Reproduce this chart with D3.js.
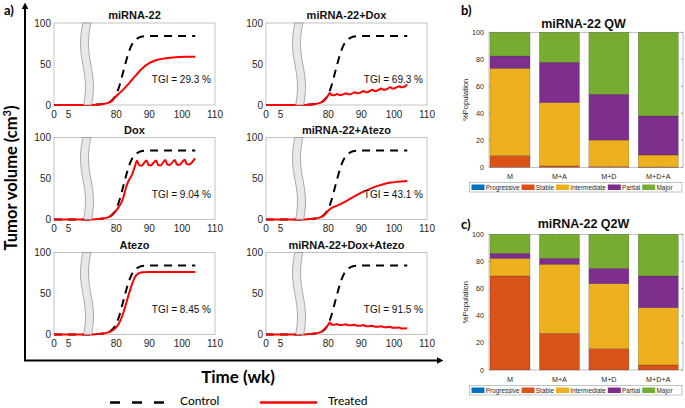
<!DOCTYPE html>
<html><head><meta charset="utf-8">
<script src="https://cdn.jsdelivr.net/npm/d3@7"></script>
<style>body{margin:0;background:#fff}svg{display:block}</style>
</head><body>
<svg id="c" width="685" height="408"></svg>
<script>
// ---------- DATA (panel a) ----------
const panelTitles = ["miRNA-22","miRNA-22+Dox","Dox","miRNA-22+Atezo","Atezo","miRNA-22+Dox+Atezo"];
const tgiLabels = ["TGI = 29.3 %","TGI = 69.3 %","TGI = 9.04 %","TGI = 43.1 %","TGI = 8.45 %","TGI = 91.5 %"];
const timeTicks = [0,5,80,90,100,110];
const volumeTicks = [0,50,100];
const controlCurve = [[0,0],[10,0],[72.3,0],[74,0.5],[76,1.2],[78,3.5],[79,7],[80,13],[81,24],[82,39],[83,54],[84,67],[85,75.5],[86,80],[87,82.5],[88,83.5],[90,84],[95,84],[100,84],[104,84]];
const treatedMiR22 = [[0,0],[10,0],[72.3,0],[74,0.5],[76,1.2],[78,3.5],[79,6.5],[80,11],[81,14.5],[82,18.5],[84,27],[86,36.5],[88,45],[90,51],[92,54.5],[95,57],[98,58.3],[101,58.7],[104,58.8]];
const treatedMiR22Dox = [[0,0],[10,0],[72.3,0],[74,0.5],[76,1.2],[78,3.5],[79,6.5],[80,12],[80.4,14.5],[81,12.3],[81.8,12],[82.7,13.3],[83.3,12.2],[84,12.3],[85.4,14.2],[86,13],[86.7,13.2],[88.1,15.5],[88.7,14.2],[89.4,14.5],[90.8,17],[91.4,15.6],[92.1,15.9],[93.5,18.5],[94.1,17],[94.8,17.4],[96.2,20],[96.8,18.5],[97.5,18.9],[98.9,21.5],[99.5,20],[100.2,20.4],[101.6,23],[102.2,21.5],[102.9,22],[104,24.8]];
const treatedDox = [[0,0],[10,0],[72.3,0],[74,0.5],[76,1.2],[78,3.5],[79,6.5],[80,11],[81,17],[82,25],[83,40],[83.7,47],[84.7,54],[85.5,63],[86.3,71.5],[86.9,66.5],[87.6,65.5],[89.2,72],[89.8,66.5],[90.5,66],[92.1,72],[92.7,66.5],[93.4,66],[94.9,72.5],[95.5,67],[96.2,66.5],[97.8,72.5],[98.4,67],[99.1,66.5],[100.8,73],[101.4,67.5],[102.1,67],[103.9,74.5]];
const treatedMiR22Atezo = [[0,0],[10,0],[72.3,0],[74,0.5],[76,1.2],[78,3.5],[79,6.5],[80,11],[81,14],[83,17.5],[85,21.5],[87,26],[89,30.5],[91,34.5],[93,38],[95,41],[97,43.3],[99,45],[101,46],[104,47]];
const treatedAtezo = [[0,0],[10,0],[72.3,0],[74,0.5],[76,1.2],[78,3.2],[79,5.5],[80,9],[81,15],[82,25],[83,38],[84,52],[85,64],[86,72],[87,75],[88,76],[90,76.3],[95,76.3],[100,76.3],[104,76.3]];
const treatedMiR22DoxAtezo = [[0,0],[10,0],[72.3,0],[74,0.5],[76,1.2],[78,3.5],[79,6.5],[80,12],[80.4,14.5],[81,12.2],[81.8,11.8],[82.7,12.8],[83.3,11.5],[84,11.6],[85.4,12.5],[86,11.2],[86.7,11.2],[88.1,12],[88.7,10.7],[89.4,10.7],[90.8,11.5],[91.4,10.2],[92.1,10.2],[93.5,10.8],[94.1,9.5],[94.8,9.5],[96.2,10],[96.8,8.8],[97.5,8.8],[98.9,9.3],[99.5,8.1],[100.2,8.1],[101.6,8.5],[102.2,7.3],[102.9,7.3],[104,7.5]];
const treatedCurves = [treatedMiR22, treatedMiR22Dox, treatedDox, treatedMiR22Atezo, treatedAtezo, treatedMiR22DoxAtezo];

// ---------- DATA (panels b, c) ----------
const outcomes = ["Progressive","Stable","Intermediate","Partial","Major"];
const regimens = ["M","M+A","M+D","M+D+A"];
const pctTicks = [0,20,40,60,80,100];
const qwProgressive = [0,0,0,0];
const qwStable = [8.6,1.0,0.5,0.2];
const qwIntermediate = [64.7,46.9,19.7,8.9];
const qwPartial = [9.1,29.9,33.9,28.9];
const qwMajor = [17.6,22.2,45.9,62.0];
const q2wProgressive = [0,0,0,0];
const q2wStable = [69.3,27.0,15.7,3.7];
const q2wIntermediate = [13.0,50.9,47.9,42.2];
const q2wPartial = [3.7,4.4,11.3,23.4];
const q2wMajor = [14.0,17.7,25.1,30.7];

// ---------- STYLE ----------
const outcomeColors = ["#0072BD","#D95319","#EDB120","#7E2F8E","#77AC30"];
const FM = "'Liberation Sans', Arial, sans-serif";
const FC = "Lato, 'Open Sans', sans-serif";

const svg = d3.select("#c");
svg.append("rect").attr("width",685).attr("height",408).attr("fill","#fff");

// ---------- PANEL A ----------
const pw = 161, ph = 82;
const colX = [54, 266], rowY = [23, 137.5, 252.5];
const line = (x,y)=>d3.line().x(d=>x(d[0])).y(d=>y(d[1])).curve(d3.curveMonotoneX);

panelTitles.forEach((title,i)=>{
  const r = Math.floor(i/2), c = i%2;
  const g = svg.append("g").attr("transform",`translate(${colX[c]},${rowY[r]})`);
  const x = d3.scaleLinear().domain([0,10,72.3,110]).range([0,29,37,pw]);
  const y = d3.scaleLinear().domain([0,100]).range([ph,0]);

  g.append("rect").attr("width",pw).attr("height",ph).attr("fill","none")
    .attr("stroke","#b3b3b3").attr("stroke-width",0.8);

  g.append("path").datum(controlCurve).attr("d",line(x,y)).attr("fill","none")
    .attr("stroke","#000").attr("stroke-width",2).attr("stroke-dasharray","8,6");
  g.append("path").datum(treatedCurves[i]).attr("d",line(x,y)).attr("fill","none")
    .attr("stroke","#ff0000").attr("stroke-width",2);

  // axis break band
  const mid = (x(10)+x(72.3))/2, hw = 4;
  const ts = d3.range(0,1.0001,0.05);
  const cx = t => mid - 2.5*Math.cos(2*Math.PI*(t-0.25)/1.06);
  const pts = ts.map(t=>[cx(t)-hw, t*ph]).concat(ts.slice().reverse().map(t=>[cx(t)+hw, t*ph]));
  g.append("path").attr("d", d3.line().curve(d3.curveLinearClosed)(pts))
    .attr("fill","#e6e6e6").attr("fill-opacity",0.9).attr("stroke","#8a8a8a").attr("stroke-width",0.7);

  // ticks
  const xa = g.append("g").attr("font-family",FM).attr("font-size",10).attr("fill","#262626");
  timeTicks.forEach(t=>{
    xa.append("text").attr("x",x(t)).attr("y",ph+12.5).attr("text-anchor","middle").text(t);
  });
  volumeTicks.forEach(v=>{
    xa.append("text").attr("x",-3).attr("y",y(v)).attr("dy","0.35em").attr("text-anchor","end").text(v);
  });
  g.append("text").attr("x",pw/2).attr("y",-4).attr("text-anchor","middle")
    .attr("font-family",FM).attr("font-weight","bold").attr("font-size",11).attr("fill","#111").text(title);
  g.append("text").attr("x",pw-4).attr("y",60).attr("text-anchor","end")
    .attr("font-family",FM).attr("font-size",10).attr("fill","#111").text(tgiLabels[i]);
});

// big axes with arrows
const defs = svg.append("defs");
defs.append("marker").attr("id","arr").attr("viewBox","0 0 10 10").attr("refX",2).attr("refY",5)
  .attr("markerWidth",3.4).attr("markerHeight",3.4).attr("orient","auto")
  .append("path").attr("d","M0,0L10,5L0,10z").attr("fill","#000");
svg.append("line").attr("x1",25).attr("y1",361).attr("x2",25).attr("y2",8)
  .attr("stroke","#000").attr("stroke-width",2).attr("marker-end","url(#arr)");
svg.append("line").attr("x1",24).attr("y1",360.5).attr("x2",438).attr("y2",360.5)
  .attr("stroke","#000").attr("stroke-width",2).attr("marker-end","url(#arr)");

svg.append("text").attr("x",4).attr("y",15).attr("font-family",FC).attr("font-weight","bold").attr("font-size",13).text("a)");
svg.append("text").attr("transform","translate(17,178) rotate(-90)").attr("text-anchor","middle")
  .attr("font-family",FC).attr("font-weight","bold").attr("font-size",16.5)
  .html('Tumor volume (cm<tspan dy="-6" font-size="11">3</tspan><tspan dy="6">)</tspan>');
svg.append("text").attr("x",238).attr("y",383).attr("text-anchor","middle")
  .attr("font-family",FC).attr("font-weight","bold").attr("font-size",17).text("Time (wk)");

// bottom legend
svg.append("line").attr("x1",110).attr("x2",166).attr("y1",402.5).attr("y2",402.5)
  .attr("stroke","#000").attr("stroke-width",2.5).attr("stroke-dasharray","10,12");
svg.append("text").attr("x",180).attr("y",405).attr("font-family",FC).attr("font-size",12).text("Control");
svg.append("line").attr("x1",260).attr("x2",317).attr("y1",402.5).attr("y2",402.5)
  .attr("stroke","#ff0000").attr("stroke-width",2.5);
svg.append("text").attr("x",328).attr("y",405).attr("font-family",FC).attr("font-size",12).text("Treated");

// ---------- PANELS B, C ----------
function stackedPanel(opt){
  const {top,bottom,title,titleY,letter,letterY,series,legendY} = opt;
  const x = d3.scaleBand().domain(regimens).range([490,678.3]).paddingInner(0.19).paddingOuter(0);
  const y = d3.scaleLinear().domain([0,100]).range([bottom,top]);
  const rows = regimens.map((m,j)=>{
    const o = {regimen:m};
    outcomes.forEach((k,s)=>o[k]=series[s][j]);
    return o;
  });
  const stacked = d3.stack().keys(outcomes)(rows);
  const g = svg.append("g");
  g.append("rect").attr("x",489).attr("y",top).attr("width",194).attr("height",bottom-top)
    .attr("fill","none").attr("stroke","#a6a6a6").attr("stroke-width",0.7);
  stacked.forEach((layer,s)=>{
    g.selectAll(null).data(layer).enter().append("rect")
      .attr("x",d=>x(d.data.regimen)).attr("width",x.bandwidth())
      .attr("y",d=>y(d[1])).attr("height",d=>Math.max(0,y(d[0])-y(d[1])))
      .attr("fill",outcomeColors[s]).attr("stroke","rgba(0,0,0,0.35)").attr("stroke-width",0.5);
  });
  const tk = g.append("g").attr("stroke","#777").attr("stroke-width",0.6);
  regimens.forEach(m=>{
    const cx = x(m)+x.bandwidth()/2;
    tk.append("line").attr("x1",cx).attr("x2",cx).attr("y1",top).attr("y2",top+2);
    tk.append("line").attr("x1",cx).attr("x2",cx).attr("y1",bottom).attr("y2",bottom-2);
  });
  pctTicks.forEach(v=>{
    tk.append("line").attr("x1",489).attr("x2",491).attr("y1",y(v)).attr("y2",y(v));
    tk.append("line").attr("x1",683).attr("x2",681).attr("y1",y(v)).attr("y2",y(v));
  });
  const lab = g.append("g").attr("font-family",FM).attr("font-size",7.2).attr("fill","#262626");
  pctTicks.forEach(v=>{
    lab.append("text").attr("x",484).attr("y",y(v)).attr("dy","0.35em").attr("text-anchor","end").text(v);
  });
  regimens.forEach(m=>{
    lab.append("text").attr("x",x(m)+x.bandwidth()/2).attr("y",bottom+11.5).attr("text-anchor","middle").text(m);
  });
  g.append("text").attr("transform",`translate(467.5,${(top+bottom)/2}) rotate(-90)`).attr("text-anchor","middle")
    .attr("font-family",FM).attr("font-size",7.5).attr("fill","#262626").text("%Population");
  g.append("text").attr("x",583.5).attr("y",titleY).attr("text-anchor","middle")
    .attr("font-family",FM).attr("font-weight","bold").attr("font-size",12.5).attr("fill","#111").text(title);
  g.append("text").attr("x",461).attr("y",letterY).attr("font-family",FC).attr("font-weight","bold")
    .attr("font-size",13).text(letter);
  // legend
  const lg = g.append("g");
  lg.append("rect").attr("x",469.5).attr("y",legendY).attr("width",212.5).attr("height",9.5)
    .attr("fill","#fff").attr("stroke","#9a9a9a").attr("stroke-width",0.6);
  let lx = 471.5;
  outcomes.forEach((k,s)=>{
    lg.append("rect").attr("x",lx).attr("y",legendY+2).attr("width",13).attr("height",5.5).attr("fill",outcomeColors[s]);
    const t = lg.append("text").attr("x",lx+14.3).attr("y",legendY+7.2).attr("font-family",FM)
      .attr("font-size",6.4).attr("fill","#262626").text(k);
    lx += 14.3 + t.node().getComputedTextLength() + 2;
  });
}
stackedPanel({top:32.3,bottom:167.3,title:"miRNA-22 QW",titleY:27.7,letter:"b)",letterY:15,
  series:[qwProgressive,qwStable,qwIntermediate,qwPartial,qwMajor],legendY:182.5});
stackedPanel({top:234.3,bottom:370,title:"miRNA-22 Q2W",titleY:228,letter:"c)",letterY:229,
  series:[q2wProgressive,q2wStable,q2wIntermediate,q2wPartial,q2wMajor],legendY:385.5});
</script>
</body></html>
